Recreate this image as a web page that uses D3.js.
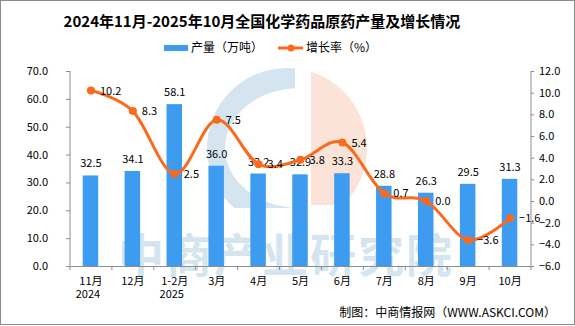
<!DOCTYPE html>
<html><head><meta charset="utf-8">
<script src="https://cdn.jsdelivr.net/npm/d3@7"></script>
<style>body{margin:0;background:#fff}svg{display:block}text{font-family:"Noto Sans CJK SC","DejaVu Sans",sans-serif}</style>
</head><body><svg id="c" width="575" height="326"></svg>
<script>
const categories = ["11月","12月","1-2月","3月","4月","5月","6月","7月","8月","9月","10月"];
const years = ["2024","","2025","","","","","","","",""];
const output = [32.5,34.1,58.1,36.0,33.2,32.9,33.3,28.8,26.3,29.5,31.3];
const growth = [10.2,8.3,2.5,7.5,3.4,3.8,5.4,0.7,0.0,-3.6,-1.6];
const leftTicks = [0,10,20,30,40,50,60,70];
const rightTicks = [-6,-4,-2,0,2,4,6,8,10,12];
const title = "2024年11月-2025年10月全国化学药品原药产量及增长情况";
const legendNames = ["产量（万吨）","增长率（%）"];
const source = "制图：中商情报网（WWW.ASKCI.COM）";

const svg = d3.select("#c");
const L=70, R=531, T=71, B=266;
const blue="#3d9bf0", orange="#fb6a1c", axisCol="#8c8c8c";

// watermark
const wm = svg.append("g");
const defs = svg.append("defs");
defs.append("clipPath").attr("id","cb").append("rect").attr("x",0).attr("y",0).attr("width",295).attr("height",208);
defs.append("clipPath").attr("id","co").append("rect").attr("x",311).attr("y",0).attr("width",200).attr("height",205);
const cx=287, cy=148, r=80;
wm.append("path").attr("clip-path","url(#cb)").attr("fill","#d5e5f0").attr("fill-rule","evenodd")
  .attr("d",`M${cx-r},${cy}a${r},${r} 0 1,0 ${2*r},0a${r},${r} 0 1,0 ${-2*r},0Z M225,148a75,60 0 1,0 150,0a75,60 0 1,0 -150,0Z`);
wm.append("circle").attr("clip-path","url(#co)").attr("cx",cx).attr("cy",cy).attr("r",r).attr("fill","#fbe3d8");
wm.append("text").attr("x",286).attr("y",272).attr("text-anchor","middle").attr("font-size",46).attr("font-weight","bold")
  .attr("fill","#d5e5f0").attr("letter-spacing",2).text("中商产业研究院");

const x = d3.scaleBand().domain(categories).range([L,R]);
const yL = d3.scaleLinear().domain([0,70]).range([B,T]);
const yR = d3.scaleLinear().domain([-6,12]).range([B,T]);

// title
svg.append("text").attr("x",262).attr("y",27).attr("text-anchor","middle").attr("font-size",15).attr("font-weight","bold").attr("fill","#000").text(title);

// legend
svg.append("rect").attr("x",164).attr("y",45).attr("width",24).attr("height",6).attr("fill",blue);
svg.append("text").attr("x",191).attr("y",52).attr("font-size",12).attr("fill","#000").text(legendNames[0]);
svg.append("line").attr("x1",278).attr("x2",303).attr("y1",48).attr("y2",48).attr("stroke",orange).attr("stroke-width",3);
svg.append("circle").attr("cx",291).attr("cy",48).attr("r",3.5).attr("fill",orange);
svg.append("text").attr("x",306).attr("y",52).attr("font-size",12).attr("fill","#000").text(legendNames[1]);

// bars
const bw = 15.5;
svg.append("g").selectAll("rect").data(output).join("rect")
  .attr("x",(d,i)=>x(categories[i])+x.bandwidth()/2-bw/2-0.5).attr("width",bw)
  .attr("y",d=>yL(d)).attr("height",d=>B-yL(d)).attr("fill",blue);

// axes
const fmt = d3.format(".1f");
const gl = svg.append("g").attr("transform",`translate(${L},0)`)
  .call(d3.axisLeft(yL).tickValues(leftTicks).tickFormat(fmt).tickSize(4).tickPadding(18));
const gr = svg.append("g").attr("transform",`translate(${R},0)`)
  .call(d3.axisRight(yR).tickValues(rightTicks).tickFormat(fmt).tickSize(3).tickPadding(5));
const gx = svg.append("g").attr("transform",`translate(0,${B})`)
  .call(d3.axisBottom(x).tickSize(0).tickFormat(""));
[gl,gr,gx].forEach(g=>{g.select(".domain").attr("stroke",axisCol);g.selectAll(".tick line").attr("stroke",axisCol);
  g.selectAll(".tick text").attr("font-size",11).attr("fill","#000").style("font-family","'Noto Sans CJK SC',sans-serif");});
gr.select(".domain").attr("d",`M0,${T}V${B}`);
gl.select(".domain").attr("d",`M0,${T}V${B}`);
gx.selectAll(".tick text").remove();
// x tick marks at band boundaries
const bounds = categories.map(c=>x(c)).concat([R]);
svg.append("g").selectAll("line").data(bounds).join("line")
  .attr("x1",d=>d).attr("x2",d=>d).attr("y1",B).attr("y2",B+4).attr("stroke",axisCol);
// x labels
svg.append("g").selectAll("text").data(categories).join("text")
  .attr("x",d=>x(d)+x.bandwidth()/2).attr("y",285).attr("text-anchor","middle").attr("font-size",11).attr("fill","#000").text(d=>d);
const yearItems = years.map((y,i)=>({y,i})).filter(d=>d.y);
svg.append("g").selectAll("text").data(yearItems).join("text")
  .attr("x",d=>x(categories[d.i])+x.bandwidth()/2-3).attr("y",298).attr("text-anchor","middle").attr("font-size",11).attr("fill","#000").text(d=>d.y);

// bar labels
svg.append("g").selectAll("text").data(output).join("text")
  .attr("x",(d,i)=>x(categories[i])+x.bandwidth()/2).attr("y",d=>yL(d)-8).attr("text-anchor","middle")
  .attr("font-size",11).attr("fill","#000").text(d=>fmt(d));

// line
const px = (i)=>x(categories[i])+x.bandwidth()/2;
const line = d3.line().x((d,i)=>px(i)).y(d=>yR(d)).curve(d3.curveCardinal);
svg.append("path").datum(growth).attr("d",line).attr("fill","none").attr("stroke",orange).attr("stroke-width",3);
svg.append("g").selectAll("circle").data(growth).join("circle")
  .attr("cx",(d,i)=>px(i)).attr("cy",d=>yR(d)).attr("r",4).attr("fill",orange);
svg.append("g").selectAll("text").data(growth).join("text")
  .attr("x",(d,i)=>px(i)+9).attr("y",d=>yR(d)+4).attr("font-size",11).attr("fill","#000").text(d=>fmt(d));

// source
svg.append("text").attr("x",556).attr("y",317).attr("text-anchor","end").attr("font-size",12).attr("fill","#000").text(source);
// border
svg.append("rect").attr("x",0.5).attr("y",0.5).attr("width",574).attr("height",324).attr("fill","none").attr("stroke","#8c8c8c");
</script></body></html>
